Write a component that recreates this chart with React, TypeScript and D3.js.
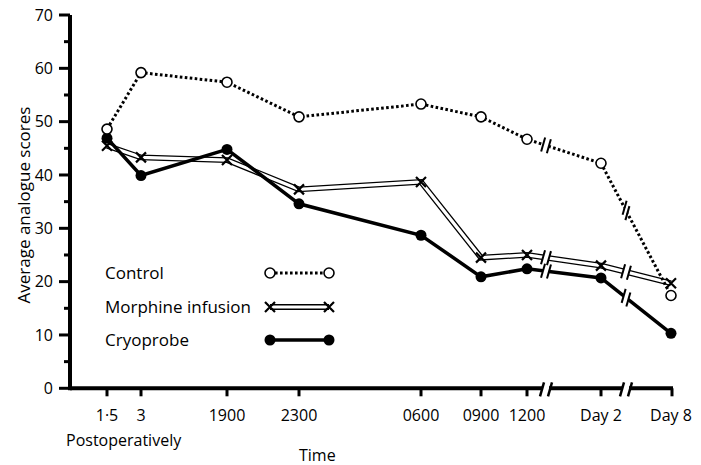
import React from 'react';
import * as d3 from 'd3';

// values
const times = ['1·5', '3', '1900', '2300', '0600', '0900', '1200', 'Day 2', 'Day 8'];
const control = [48.6, 59.2, 57.4, 50.9, 53.3, 50.9, 46.7, 42.2, 17.4];
const morphine = [45.5, 43.3, 42.8, 37.3, 38.7, 24.5, 25.0, 23.0, 19.7];
const cryoprobe = [46.9, 39.9, 44.8, 34.6, 28.7, 20.9, 22.4, 20.7, 10.3];
const yTicks = [0, 10, 20, 30, 40, 50, 60, 70];
const yMinor = [5, 15, 25, 35, 45, 55, 65];
const legendNames = ['Control', 'Morphine infusion', 'Cryoprobe'];

// layout (the time axis in the original is not evenly spaced)
const width = 701;
const height = 465;
const xRange = [107, 141, 227, 299, 421, 481, 527, 601, 671];
const breakAfter = [6, 7];
const breakX = [546, 626];
const font = '"Open Sans", sans-serif';

const x = d3.scaleOrdinal<string, number>().domain(times).range(xRange);
const y = d3.scaleLinear().domain([0, 70]).range([388.3, 15]);
const x0 = 70;
const xEnd = 673;

const lineGen = d3.line<number>()
    .x((d, i) => x(times[i]))
    .y(d => y(d));

// spot on a series where the axis break crosses it
const breakPoint = (vals: number[], i: number, bx: number) => {
    const xa = x(times[i]), xb = x(times[i + 1]);
    const t = (bx - xa) / (xb - xa);
    const ya = y(vals[i]), yb = y(vals[i + 1]);
    const px = bx, py = ya + t * (yb - ya);
    const len = Math.hypot(xb - xa, yb - ya);
    return { px, py, dx: (xb - xa) / len, dy: (yb - ya) / len };
};

const Break = ({ vals, gapWidth }: { vals: number[], gapWidth: number }) => (
    <g>
        {breakAfter.map((i, k) => {
            const { px, py, dx, dy } = breakPoint(vals, i, breakX[k]);
            const g = 3;
            return (
                <g key={k}>
                    <line x1={px - dx * g} y1={py - dy * g} x2={px + dx * g} y2={py + dy * g}
                        stroke="#fff" strokeWidth={gapWidth} />
                    {[-g, g].map(o => (
                        <line key={o} x1={px + dx * o - 2} y1={py + dy * o + 7} x2={px + dx * o + 2} y2={py + dy * o - 7}
                            stroke="#000" strokeWidth={2} />
                    ))}
                </g>
            );
        })}
    </g>
);

const OpenCircle = ({ cx, cy }: { cx: number, cy: number }) =>
    <circle cx={cx} cy={cy} r={5} fill="#fff" stroke="#000" strokeWidth={1.6} />;
const Cross = ({ cx, cy }: { cx: number, cy: number }) =>
    <path d={`M${cx - 5},${cy - 5}L${cx + 5},${cy + 5}M${cx - 5},${cy + 5}L${cx + 5},${cy - 5}`} stroke="#000" strokeWidth={2.2} />;
const Dot = ({ cx, cy }: { cx: number, cy: number }) =>
    <circle cx={cx} cy={cy} r={5.5} fill="#000" />;

const legendY = [273, 307, 340];
const legX1 = 270;
const legX2 = 329;

const App = () => {
    return (
        <svg width={width} height={height} style={{ position: 'absolute', left: 0, top: 0, background: '#fff' }}
            fontFamily={font}>
            {/* y axis */}
            <line x1={x0} y1={y(0) + 2} x2={x0} y2={y(70)} stroke="#000" strokeWidth={4} />
            {yTicks.map(t => (
                <g key={t}>
                    <line x1={x0 - 11} x2={x0} y1={y(t)} y2={y(t)} stroke="#000" strokeWidth={3} />
                    <text x={53} y={y(t)} dy="0.35em" textAnchor="end" fontSize={16}>{t}</text>
                </g>
            ))}
            {yMinor.map(t => (
                <line key={t} x1={x0 - 6} x2={x0} y1={y(t)} y2={y(t)} stroke="#000" strokeWidth={3} />
            ))}
            <text transform={`translate(24,205) rotate(-90)`} textAnchor="middle" dy="0.35em" fontSize={17}>
                Average analogue scores
            </text>

            {/* x axis with breaks */}
            <path d={`M${x0},${y(0)}H${breakX[0] - 3}M${breakX[0] + 3},${y(0)}H${breakX[1] - 3}M${breakX[1] + 3},${y(0)}H${xEnd}`}
                stroke="#000" strokeWidth={4} fill="none" />
            {breakX.map(bx => [-4, 4].map(o => (
                <line key={`${bx}${o}`} x1={bx + o - 2} y1={y(0) + 8} x2={bx + o + 2} y2={y(0) - 6} stroke="#000" strokeWidth={2.5} />
            )))}
            {times.map(t => (
                <g key={t}>
                    <line x1={t === 'Day 8' ? xEnd - 1 : x(t)} x2={t === 'Day 8' ? xEnd - 1 : x(t)} y1={y(0)} y2={y(0) + 8}
                        stroke="#000" strokeWidth={3} />
                    <text x={x(t)} y={415} dy="0.35em" textAnchor="middle" fontSize={16}>{t}</text>
                </g>
            ))}
            <text x={66} y={440} dy="0.35em" fontSize={16}>Postoperatively</text>
            <text x={299} y={455} dy="0.35em" fontSize={16}>Time</text>

            {/* Morphine infusion: double line */}
            <path d={lineGen(morphine) || ''} fill="none" stroke="#000" strokeWidth={5.8} />
            <path d={lineGen(morphine) || ''} fill="none" stroke="#fff" strokeWidth={3.2} />
            <Break vals={morphine} gapWidth={9} />

            {/* Cryoprobe */}
            <path d={lineGen(cryoprobe) || ''} fill="none" stroke="#000" strokeWidth={3.5} />
            <Break vals={cryoprobe} gapWidth={7} />

            {/* Control: dotted */}
            <path d={lineGen(control) || ''} fill="none" stroke="#000" strokeWidth={3} strokeDasharray="2.6 2.4" />
            <Break vals={control} gapWidth={7} />

            {morphine.map((v, i) => <Cross key={i} cx={x(times[i])} cy={y(v)} />)}
            {cryoprobe.map((v, i) => <Dot key={i} cx={x(times[i])} cy={y(v)} />)}
            {control.map((v, i) => <OpenCircle key={i} cx={x(times[i])} cy={y(v)} />)}

            {/* legend */}
            {legendNames.map((name, i) => (
                <text key={name} x={105} y={legendY[i]} dy="0.35em" fontSize={17}>{name}</text>
            ))}
            <line x1={legX1} x2={legX2} y1={legendY[0]} y2={legendY[0]} stroke="#000" strokeWidth={3} strokeDasharray="2.6 2.4" />
            <OpenCircle cx={legX1} cy={legendY[0]} />
            <OpenCircle cx={legX2} cy={legendY[0]} />
            <line x1={legX1} x2={legX2} y1={legendY[1]} y2={legendY[1]} stroke="#000" strokeWidth={5.8} />
            <line x1={legX1} x2={legX2} y1={legendY[1]} y2={legendY[1]} stroke="#fff" strokeWidth={3.2} />
            <Cross cx={legX1} cy={legendY[1]} />
            <Cross cx={legX2} cy={legendY[1]} />
            <line x1={legX1} x2={legX2} y1={legendY[2]} y2={legendY[2]} stroke="#000" strokeWidth={3.5} />
            <Dot cx={legX1} cy={legendY[2]} />
            <Dot cx={legX2} cy={legendY[2]} />
        </svg>
    );
};

export default App;
